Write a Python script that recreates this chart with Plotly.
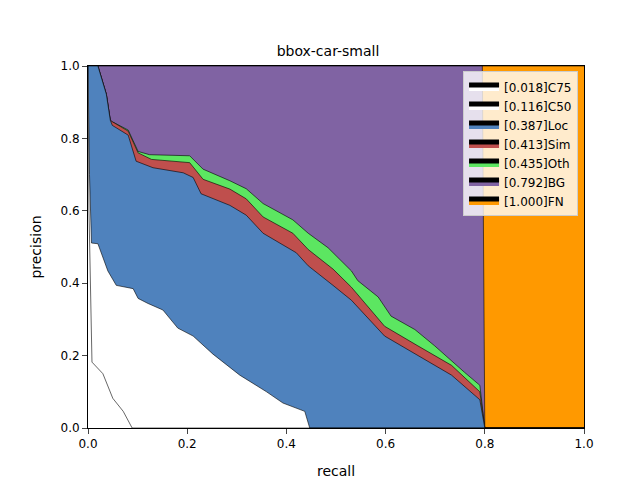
import plotly.graph_objects as go

# recall / precision
rec_c75 = [0.0, 0.002, 0.008, 0.03, 0.05, 0.071, 0.089, 1.0]
prec_c75 = [1.0, 0.6, 0.182, 0.15, 0.082, 0.046, 0.0, 0.0]

rec_c50 = [0.0, 0.003, 0.007, 0.02, 0.04, 0.057, 0.091, 0.101, 0.121, 0.151, 0.181, 0.212,
           0.252, 0.306, 0.36, 0.393, 0.437, 0.447, 1.0]
prec_c50 = [1.0, 0.7, 0.511, 0.509, 0.434, 0.394, 0.385, 0.358, 0.344, 0.326, 0.276, 0.254,
            0.204, 0.146, 0.1, 0.069, 0.046, 0.0, 0.0]

rec_loc = [0.0, 0.02, 0.037, 0.045, 0.049, 0.081, 0.097, 0.131, 0.192, 0.212, 0.228, 0.286,
           0.319, 0.353, 0.42, 0.444, 0.494, 0.531, 0.598, 0.665, 0.733, 0.79, 0.8, 1.0]
prec_loc = [1.0, 1.0, 0.922, 0.85, 0.836, 0.809, 0.737, 0.719, 0.705, 0.692, 0.647, 0.615,
            0.588, 0.538, 0.484, 0.448, 0.394, 0.353, 0.254, 0.2, 0.146, 0.078, 0.0, 0.0]

rec_sim = [0.0, 0.02, 0.037, 0.045, 0.049, 0.081, 0.101, 0.128, 0.205, 0.232, 0.286, 0.319,
           0.353, 0.413, 0.444, 0.494, 0.531, 0.598, 0.665, 0.733, 0.79, 0.8, 1.0]
prec_sim = [1.0, 1.0, 0.922, 0.85, 0.846, 0.82, 0.76, 0.742, 0.733, 0.687, 0.66, 0.633,
            0.583, 0.538, 0.493, 0.439, 0.389, 0.281, 0.227, 0.173, 0.1, 0.0, 0.0]

rec_oth = [0.0, 0.02, 0.037, 0.045, 0.049, 0.081, 0.101, 0.124, 0.205, 0.232, 0.286, 0.319,
           0.353, 0.413, 0.444, 0.484, 0.531, 0.544, 0.585, 0.611, 0.659, 0.699, 0.759, 0.79, 0.8, 1.0]
prec_oth = [1.0, 1.0, 0.922, 0.85, 0.846, 0.823, 0.764, 0.755, 0.752, 0.715, 0.683, 0.661,
            0.62, 0.575, 0.538, 0.498, 0.434, 0.407, 0.362, 0.309, 0.272, 0.227, 0.154, 0.118, 0.0, 0.0]

rec_bg = [0.0, 0.795, 0.8, 1.0]
prec_bg = [1.0, 1.0, 0.0, 0.0]

rec_fn = [0.0, 1.0]
prec_fn = [1.0, 1.0]

names = ["[0.018]C75", "[0.116]C50", "[0.387]Loc", "[0.413]Sim", "[0.435]Oth", "[0.792]BG", "[1.000]FN"]
colors = ["#ffffff", "#ffffff", "rgb(79,130,189)", "rgb(191,79,77)", "rgb(92,230,97)",
          "rgb(128,99,163)", "rgb(255,153,0)"]
curves = [(rec_c75, prec_c75), (rec_c50, prec_c50), (rec_loc, prec_loc), (rec_sim, prec_sim),
          (rec_oth, prec_oth), (rec_bg, prec_bg), (rec_fn, prec_fn)]

fig = go.Figure()
# draw from the back (FN) to the front (C75)
for i in reversed(range(len(names))):
    x, y = curves[i]
    fig.add_trace(go.Scatter(x=x, y=y, name=names[i], mode="lines", fill="tozeroy",
                             fillcolor=colors[i], line=dict(color="black", width=0.6)))

fig.update_layout(
    width=640, height=480,
    margin=dict(l=80, r=64, t=58, b=53),
    plot_bgcolor="white", paper_bgcolor="white",
    font=dict(family="DejaVu Sans", size=12, color="black"),
    title=dict(text="bbox-car-small", x=0.5, xanchor="center", y=0.91, yanchor="middle",
               font=dict(size=14)),
    legend=dict(traceorder="reversed", x=0.988, y=0.985, xanchor="right", yanchor="top",
                bgcolor="rgba(255,255,255,0.8)", bordercolor="#cccccc", borderwidth=1,
                font=dict(size=12), itemsizing="constant"),
)
fig.update_xaxes(range=[0, 1], title_text="recall", tickformat=".1f", dtick=0.2,
                 ticks="outside", showgrid=False, zeroline=False, showline=True,
                 linecolor="black", mirror=True)
fig.update_yaxes(range=[0, 1], title_text="precision", tickformat=".1f", dtick=0.2,
                 ticks="outside", showgrid=False, zeroline=False, showline=True,
                 linecolor="black", mirror=True)

fig.write_html("out.html")
